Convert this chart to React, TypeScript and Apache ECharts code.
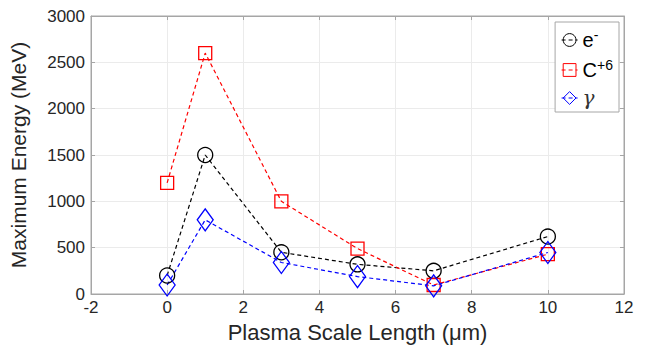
import React, { useEffect, useRef } from "react";
import * as echarts from "echarts";

const xValues = [0, 1, 3, 5, 7, 10];
const electron = [200, 1500, 450, 320, 250, 620];
const carbon = [1200, 2600, 1000, 490, 97, 430];
const gamma = [97, 800, 340, 188, 88, 448];

const xTicks = { min: -2, max: 12, interval: 2 };
const yTicks = { min: 0, max: 3000, interval: 500 };

const FONT = "'Liberation Sans', Arial, Helvetica, sans-serif";
const AXIS = "#a6a6a6";
const TEXT = "#262626";

export default function App() {
  const ref = useRef<HTMLDivElement>(null);
  useEffect(() => {
    if (!ref.current) return;
    const chart = echarts.init(ref.current, undefined, { renderer: "svg" });
    const pair = (ys: number[]) => xValues.map((x, i) => [x, ys[i]]);
    const mk = (name: string, ys: number[], color: string, symbol: string, size: any) => ({
      name,
      type: "line",
      xAxisIndex: 0,
      yAxisIndex: 0,
      data: pair(ys),
      symbol,
      symbolSize: size,
      showSymbol: true,
      lineStyle: { color, width: 1.2, type: [4, 3] },
      itemStyle: { color: "rgba(0,0,0,0)", borderColor: color, borderWidth: 1.3 },
      emphasis: { disabled: true },
    });
    const baseTick = { show: true, inside: true, length: 4, lineStyle: { color: AXIS } };
    chart.setOption({
      animation: false,
      backgroundColor: "#fff",
      textStyle: { fontFamily: FONT },
      grid: {
        left: 91,
        right: 25,
        top: 16,
        bottom: 54,
        containLabel: false,
        outerBoundsMode: "none",
        show: true,
        borderColor: AXIS,
        borderWidth: 1,
      },
      xAxis: [
        {
          type: "value",
          min: xTicks.min,
          max: xTicks.max,
          interval: xTicks.interval,
          name: "Plasma Scale Length (\u03bcm)",
          nameLocation: "middle",
          nameGap: 27,
          nameTextStyle: { fontSize: 22, color: TEXT, fontFamily: FONT },
          axisLine: { show: true, onZero: false, lineStyle: { color: AXIS } },
          axisTick: baseTick,
          axisLabel: { fontSize: 17, color: TEXT, margin: 5, fontFamily: FONT },
          splitLine: { show: true, lineStyle: { color: "#ebebeb", width: 1 } },
        },
        {
          type: "value",
          position: "top",
          min: xTicks.min,
          max: xTicks.max,
          interval: xTicks.interval,
          axisLine: { show: true, onZero: false, lineStyle: { color: AXIS } },
          axisTick: baseTick,
          axisLabel: { show: false },
          splitLine: { show: false },
        },
      ],
      yAxis: [
        {
          type: "value",
          min: yTicks.min,
          max: yTicks.max,
          interval: yTicks.interval,
          name: "Maximum Energy (MeV)",
          nameLocation: "middle",
          nameGap: 62,
          nameTextStyle: { fontSize: 21, color: TEXT, fontFamily: FONT },
          axisLine: { show: true, onZero: false, lineStyle: { color: AXIS } },
          axisTick: baseTick,
          axisLabel: {
            fontSize: 17,
            color: TEXT,
            margin: 6,
            fontFamily: FONT,
            formatter: (v: number) => String(v),
          },
          splitLine: { show: true, lineStyle: { color: "#ebebeb", width: 1 } },
        },
        {
          type: "value",
          position: "right",
          min: yTicks.min,
          max: yTicks.max,
          interval: yTicks.interval,
          axisLine: { show: true, onZero: false, lineStyle: { color: AXIS } },
          axisTick: baseTick,
          axisLabel: { show: false },
          splitLine: { show: false },
        },
      ],
      legend: {
        orient: "vertical",
        right: 30,
        top: 22,
        borderColor: AXIS,
        borderWidth: 1,
        backgroundColor: "#fff",
        padding: [6, 6, 4, 6],
        itemGap: 8,
        itemWidth: 16,
        itemHeight: 16,
        lineStyle: { width: 1 },
        itemStyle: { borderWidth: 1 },
        textStyle: {
          fontSize: 20,
          color: "#000",
          fontFamily: FONT,
          rich: {
            b: { fontSize: 20, fontFamily: FONT, color: "#000" },
            sup: { fontSize: 14, fontFamily: FONT, color: "#000", padding: [0, 0, 10, 0] },
            g: { fontSize: 20, fontStyle: "italic", fontFamily: "'DejaVu Serif', serif", color: "#333" },
          },
        },
        formatter: (name: string) => {
          if (name === "e-") return "{b|e}{sup|-}";
          if (name === "C+6") return "{b|C}{sup|+6}";
          return "{g|\u03b3}";
        },
        data: ["e-", "C+6", "gamma"],
      },
      series: [
        mk("e-", electron, "#000000", "circle", 15),
        mk("C+6", carbon, "#ff0000", "rect", 13),
        mk("gamma", gamma, "#0000ff", "diamond", [16, 22]),
      ],
    });
    return () => chart.dispose();
  }, []);
  return (
    <div
      ref={ref}
      style={{ position: "fixed", left: 0, top: 0, width: 649, height: 348 }}
    />
  );
}
